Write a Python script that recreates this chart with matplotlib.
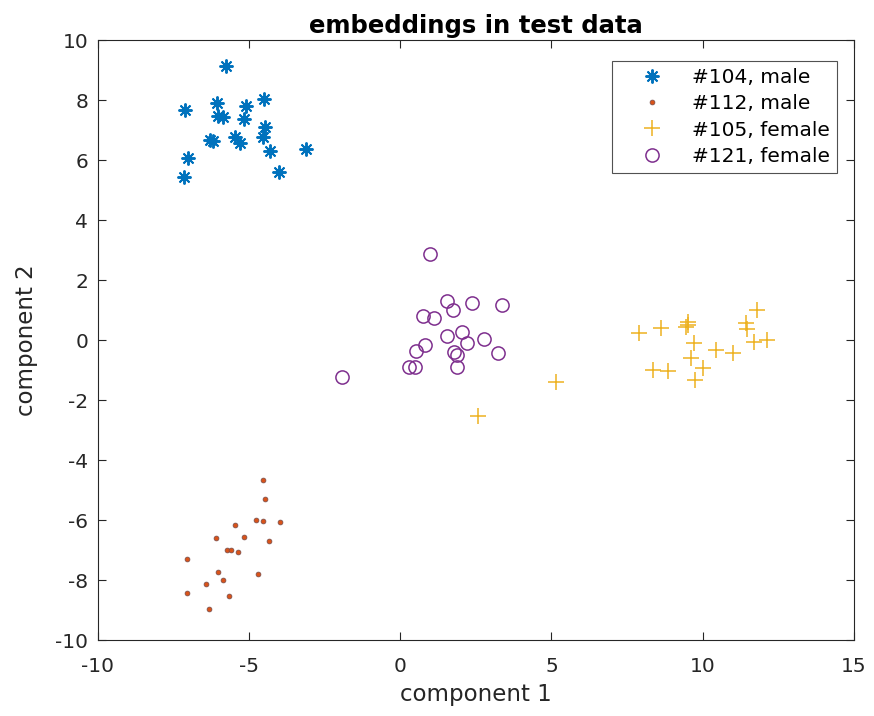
import numpy as np
import matplotlib.pyplot as plt

# speaker #104, male
x104 = [-5.78, -7.12, -6.07, -6.02, -5.85, -5.11, -5.17, -4.51, -4.48, -4.53,
        -6.30, -6.20, -5.47, -5.30, -4.31, -3.13, -4.01, -7.01, -7.16]
y104 = [9.13, 7.67, 7.89, 7.48, 7.45, 7.80, 7.37, 8.02, 7.11, 6.76,
        6.67, 6.62, 6.76, 6.58, 6.31, 6.37, 5.61, 6.06, 5.44]

# speaker #112, male
x112 = [-4.53, -4.48, -4.78, -4.53, -3.98, -5.47, -5.17, -4.34, -6.10, -5.74,
        -5.61, -5.38, -7.05, -6.03, -4.70, -5.86, -6.41, -7.05, -5.66, -6.33]
y112 = [-4.67, -5.31, -5.98, -6.02, -6.07, -6.17, -6.56, -6.70, -6.61, -6.98,
        -6.98, -7.07, -7.31, -7.72, -7.78, -7.98, -8.14, -8.42, -8.53, -8.97]

# speaker #105, female
x105 = [2.58, 5.15, 7.90, 8.62, 9.50, 9.52, 9.45, 9.72, 9.61, 10.00,
        8.36, 8.86, 9.76, 10.45, 11.00, 11.81, 11.43, 11.45, 11.70, 12.11]
y105 = [-2.52, -1.39, 0.22, 0.39, 0.50, 0.61, 0.45, -0.11, -0.58, -0.92,
        -1.00, -1.03, -1.33, -0.33, -0.44, 1.00, 0.56, 0.36, -0.06, 0.00]

# speaker #121, female
x121 = [0.98, 1.55, 1.73, 2.37, 3.35, 0.74, 1.12, 1.53, 2.05, 2.19,
        2.77, 3.22, 0.83, 0.52, 1.78, 1.86, 1.88, 0.30, 0.48, -1.94]
y121 = [2.86, 1.31, 1.00, 1.22, 1.17, 0.80, 0.74, 0.12, 0.26, -0.09,
        0.02, -0.44, -0.17, -0.37, -0.41, -0.51, -0.89, -0.89, -0.89, -1.22]

blue = (0, 0.447, 0.741)
orange = (0.85, 0.325, 0.098)
yellow = (0.929, 0.694, 0.125)
purple = (0.494, 0.184, 0.556)
dark = (0.15, 0.15, 0.15)

plt.rcParams['font.family'] = 'DejaVu Sans'
plt.rcParams['axes.unicode_minus'] = False

fig = plt.figure(figsize=(8.74, 7.16), dpi=100)
ax = fig.add_axes([0.112, 0.106, 0.865, 0.838])

ax.plot(x104, y104, linestyle='none', marker=(8, 2, 0), markersize=10,
        markeredgewidth=1.4, color=blue, label='#104, male')
ax.plot(x112, y112, linestyle='none', marker='o', markersize=3.5,
        markeredgewidth=0.5, markerfacecolor=orange, markeredgecolor=(0.45, 0.3, 0.3),
        label='#112, male')
ax.plot(x105, y105, linestyle='none', marker='+', markersize=11,
        markeredgewidth=1.1, color=yellow, label='#105, female')
ax.plot(x121, y121, linestyle='none', marker='o', markersize=9.5,
        markeredgewidth=1.1, markerfacecolor='none', markeredgecolor=purple,
        label='#121, female')

ax.set_xlim(-10, 15)
ax.set_ylim(-10, 10)
ax.set_xticks(np.arange(-10, 16, 5))
ax.set_yticks(np.arange(-10, 11, 2))
ax.tick_params(direction='in', top=True, right=True, labelsize=14.5,
               colors=dark, length=6, width=0.8, pad=7)
ax.tick_params(axis='x', pad=12)
for s in ax.spines.values():
    s.set_color(dark)
    s.set_linewidth(0.8)

ax.set_title('embeddings in test data', fontsize=17.5, fontweight='bold', pad=5)
ax.set_xlabel('component 1', fontsize=16.5, color=dark, labelpad=5)
ax.set_ylabel('component 2', fontsize=16.5, color=dark, labelpad=12)

leg = ax.legend(loc='upper right', bbox_to_anchor=(837 / 874, 1 - 61 / 716),
                bbox_transform=fig.transFigure, borderaxespad=0,
                fontsize=14.5, frameon=True, fancybox=False, edgecolor=dark,
                handlelength=3.2, handletextpad=0.4, labelspacing=0.36,
                borderpad=0.35)
leg.get_frame().set_linewidth(0.8)

fig.savefig('out.png', dpi=100)
